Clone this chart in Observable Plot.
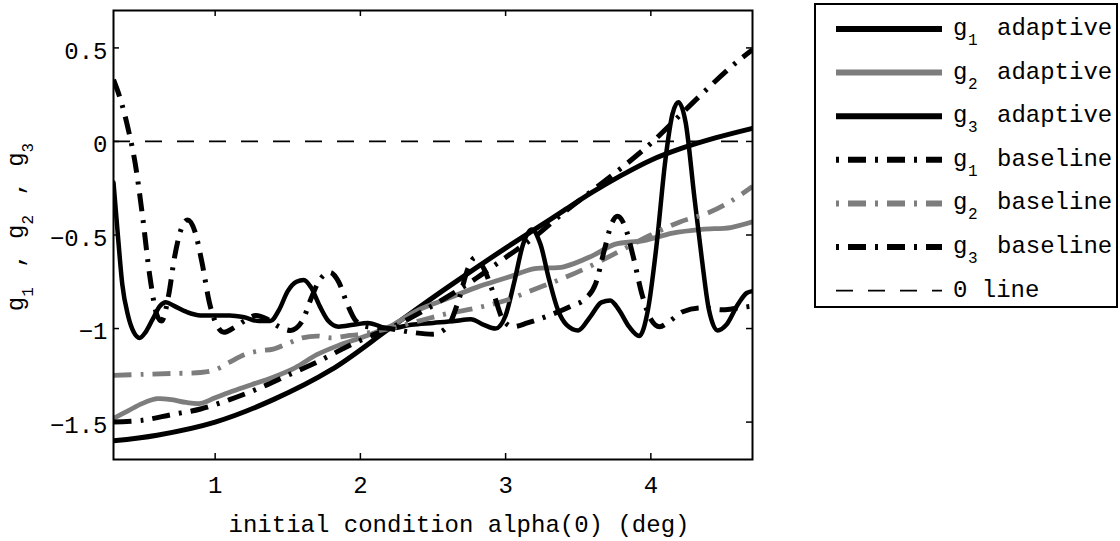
<!DOCTYPE html>
<html><head><meta charset="utf-8">
<script src="https://cdn.jsdelivr.net/npm/d3@7"></script>
<script src="https://cdn.jsdelivr.net/npm/@observablehq/plot@0.6"></script>
<style>
html,body{margin:0;padding:0;background:#fff;overflow:hidden}
#chart{width:1120px;height:541px}
</style></head><body><div id="chart"></div>
<script>
// ---- ticks and labels ----
const xTicks = [1, 2, 3, 4];
const yTicks = [0.5, 0, -0.5, -1, -1.5];
const yTickLabels = ["0.5", "0", "\u22120.5", "\u22121", "\u22121.5"];
const xLabel = "initial condition alpha(0) (deg)";
const yLabelMain = ["g", " , g", " , g"];
const yLabelSubs = ["1", "2", "3"];
const legendSubs = ["1", "2", "3", "1", "2", "3"];
const legendNames = ["adaptive", "adaptive", "adaptive", "baseline", "baseline", "baseline"];
const zeroLineLabel = "0 line";
const zeroLine = [0];

// ---- series ----
const g1AdaptiveX = [0.3, 0.6, 1.0, 1.4, 1.8, 2.2, 2.6, 3.0, 3.2, 3.4, 3.6, 3.8, 4.0, 4.2, 4.45, 4.7];
const g1AdaptiveY = [-1.60, -1.57, -1.50, -1.38, -1.22, -1.00, -0.78, -0.57, -0.47, -0.37, -0.27, -0.18, -0.10, -0.04, 0.02, 0.07];

const g2AdaptiveX = [0.3, 0.4, 0.5, 0.6, 0.7, 0.8, 0.9, 1.0, 1.1, 1.25, 1.4, 1.55, 1.7, 1.85, 2.0, 2.2, 2.4, 2.6, 2.8, 3.0, 3.2, 3.4, 3.6, 3.75, 3.95, 4.15, 4.35, 4.55, 4.7];
const g2AdaptiveY = [-1.48, -1.44, -1.40, -1.375, -1.38, -1.395, -1.40, -1.37, -1.34, -1.30, -1.26, -1.21, -1.14, -1.09, -1.05, -0.99, -0.90, -0.84, -0.78, -0.73, -0.68, -0.67, -0.61, -0.55, -0.53, -0.49, -0.47, -0.46, -0.43];

const g3AdaptiveX = [0.3, 0.33, 0.36, 0.4, 0.44, 0.48, 0.52, 0.57, 0.62, 0.66, 0.72, 0.8, 0.9, 1.0, 1.1, 1.2, 1.3, 1.38, 1.44, 1.5, 1.56, 1.61, 1.66, 1.72, 1.78, 1.85, 1.95, 2.05, 2.2, 2.35, 2.5, 2.65, 2.76, 2.85, 2.93, 3.0, 3.06, 3.12, 3.18, 3.24, 3.3, 3.36, 3.42, 3.5, 3.58, 3.66, 3.72, 3.78, 3.85, 3.92, 3.98, 4.04, 4.1, 4.15, 4.19, 4.24, 4.3, 4.35, 4.4, 4.46, 4.52, 4.6, 4.66, 4.7];
const g3AdaptiveY = [-0.22, -0.50, -0.76, -0.93, -1.02, -1.05, -1.02, -0.95, -0.88, -0.86, -0.88, -0.91, -0.93, -0.93, -0.93, -0.94, -0.96, -0.96, -0.90, -0.80, -0.75, -0.74, -0.78, -0.88, -0.96, -0.99, -0.98, -0.97, -1.00, -0.98, -0.97, -0.96, -0.95, -0.98, -1.00, -0.93, -0.75, -0.55, -0.47, -0.55, -0.74, -0.90, -0.98, -1.01, -0.94, -0.86, -0.85, -0.90, -0.99, -1.04, -0.90, -0.55, -0.10, 0.15, 0.21, 0.10, -0.30, -0.62, -0.90, -1.01, -0.98, -0.87, -0.81, -0.80];

const g1BaselineX = [0.3, 0.5, 0.7, 0.9, 1.1, 1.3, 1.5, 1.7, 1.9, 2.1, 2.2, 2.4, 2.6, 2.8, 3.0, 3.2, 3.4, 3.6, 3.8, 4.0, 4.2, 4.4, 4.6, 4.7];
const g1BaselineY = [-1.50, -1.49, -1.46, -1.43, -1.38, -1.32, -1.25, -1.18, -1.10, -1.03, -1.00, -0.92, -0.83, -0.73, -0.62, -0.51, -0.38, -0.26, -0.14, -0.01, 0.14, 0.29, 0.43, 0.49];

const g2BaselineX = [0.3, 0.5, 0.7, 0.9, 1.0, 1.1, 1.2, 1.3, 1.4, 1.5, 1.6, 1.7, 1.8, 1.9, 2.0, 2.2, 2.4, 2.6, 2.8, 3.0, 3.2, 3.4, 3.6, 3.8, 4.0, 4.2, 4.4, 4.55, 4.7];
const g2BaselineY = [-1.25, -1.245, -1.24, -1.235, -1.22, -1.18, -1.14, -1.12, -1.11, -1.08, -1.05, -1.04, -1.05, -1.04, -1.03, -1.00, -0.96, -0.92, -0.89, -0.85, -0.79, -0.73, -0.66, -0.58, -0.50, -0.43, -0.38, -0.32, -0.24];

const g3BaselineX = [0.3, 0.35, 0.4, 0.45, 0.5, 0.55, 0.6, 0.63, 0.68, 0.72, 0.77, 0.81, 0.86, 0.91, 0.96, 1.01, 1.06, 1.12, 1.2, 1.28, 1.36, 1.44, 1.52, 1.6, 1.66, 1.72, 1.79, 1.85, 1.91, 1.97, 2.05, 2.2, 2.35, 2.5, 2.6, 2.68, 2.74, 2.79, 2.85, 2.92, 2.98, 3.05, 3.15, 3.3, 3.45, 3.55, 3.62, 3.68, 3.73, 3.77, 3.82, 3.88, 3.94, 4.0, 4.06, 4.13, 4.22, 4.35, 4.5, 4.6, 4.7];
const g3BaselineY = [0.33, 0.22, 0.07, -0.12, -0.40, -0.72, -0.93, -0.96, -0.82, -0.62, -0.46, -0.42, -0.48, -0.65, -0.86, -0.98, -1.02, -1.00, -0.96, -0.93, -0.95, -0.99, -1.01, -0.96, -0.84, -0.74, -0.70, -0.75, -0.87, -0.96, -0.99, -1.00, -1.02, -1.03, -0.99, -0.84, -0.68, -0.62, -0.68, -0.82, -0.95, -0.99, -0.97, -0.93, -0.88, -0.84, -0.76, -0.58, -0.44, -0.40, -0.45, -0.62, -0.82, -0.95, -0.99, -0.96, -0.91, -0.89, -0.90, -0.89, -0.88];

// ---- build ----
const FONT = '"Liberation Mono", "Courier New", monospace';
const GRAY = "#7d7d7d";
const DASHDOT = "18,9,3,9";
const toRows = (xs, ys) => xs.map((x, i) => ({x, y: ys[i]}));

const styles = [
  {stroke: "black", strokeWidth: 5, dash: null},
  {stroke: GRAY, strokeWidth: 4.8, dash: null},
  {stroke: "black", strokeWidth: 4.5, dash: null},
  {stroke: "black", strokeWidth: 5, dash: DASHDOT},
  {stroke: GRAY, strokeWidth: 4.8, dash: DASHDOT},
  {stroke: "black", strokeWidth: 5, dash: DASHDOT}
];
const seriesData = [
  toRows(g1AdaptiveX, g1AdaptiveY),
  toRows(g2AdaptiveX, g2AdaptiveY),
  toRows(g3AdaptiveX, g3AdaptiveY),
  toRows(g1BaselineX, g1BaselineY),
  toRows(g2BaselineX, g2BaselineY),
  toRows(g3BaselineX, g3BaselineY)
];
const curves = ["catmull-rom", "catmull-rom", "monotone-x", "catmull-rom", "catmull-rom", "monotone-x"];

const lineMarks = seriesData.map((d, i) => Plot.line(d, {
  x: "x", y: "y",
  stroke: styles[i].stroke,
  strokeWidth: styles[i].strokeWidth,
  strokeDasharray: styles[i].dash,
  strokeLinecap: styles[i].dash ? "butt" : "round",
  curve: curves[i],
  clip: true
}));

const plotW = 1120 - 113 - 368;
const plotH = 541 - 10 - 82;
const TICK = 6;

const plot = Plot.plot({
  width: 1120, height: 541,
  marginLeft: 113, marginTop: 10, marginRight: 368, marginBottom: 82,
  style: {fontFamily: FONT, fontSize: "24px", background: "white", color: "black"},
  x: {domain: [0.3, 4.7], axis: null},
  y: {domain: [-1.7, 0.7], axis: null},
  marks: [
    Plot.ruleY(zeroLine, {y: d => d, stroke: "black", strokeWidth: 1.8, strokeDasharray: "17,15"}),
    ...lineMarks,
    Plot.tickX(xTicks, {x: d => d, insetTop: plotH - TICK, stroke: "black", strokeWidth: 1.5}),
    Plot.tickX(xTicks, {x: d => d, insetBottom: plotH - TICK, stroke: "black", strokeWidth: 1.5}),
    Plot.tickY(yTicks, {y: d => d, insetRight: plotW - TICK, stroke: "black", strokeWidth: 1.5}),
    Plot.tickY(yTicks, {y: d => d, insetLeft: plotW - TICK, stroke: "black", strokeWidth: 1.5}),
    Plot.frame({stroke: "black", strokeWidth: 2}),
    Plot.text(xTicks, {x: d => d, frameAnchor: "bottom", dy: 33, text: d => String(d), fontSize: 24, fontFamily: FONT, fill: "black"}),
    Plot.text(yTicks, {y: d => d, frameAnchor: "left", dx: -6, dy: 3, textAnchor: "end", text: (d, i) => yTickLabels[i], fontSize: 24, fontFamily: FONT, fill: "black"}),
    Plot.text([xLabel], {frameAnchor: "bottom", dy: 72, dx: 26, text: d => d, fontSize: 24, fontFamily: FONT, fill: "black"})
  ]
});

const svg = d3.select(plot);

// y label with subscripts
const yl = svg.append("text")
  .attr("transform", "translate(23,227) rotate(-90)")
  .attr("text-anchor", "middle")
  .attr("font-family", FONT).attr("font-size", 24).attr("fill", "black");
yLabelMain.forEach((m, i) => {
  yl.append("tspan").attr("dy", i === 0 ? 0 : -10).attr("dx", i === 0 ? 0 : 5).attr("font-size", 24).text(m);
  yl.append("tspan").attr("dy", 10).attr("font-size", 16).text(yLabelSubs[i]);
});

// legend
const lg = svg.append("g").attr("font-family", FONT).attr("fill", "black").attr("text-anchor", "start");
lg.append("rect").attr("x", 815).attr("y", 4).attr("width", 302).attr("height", 303)
  .attr("fill", "white").attr("stroke", "black").attr("stroke-width", 2);
const rowY = i => 29 + i * 43.6;
legendNames.forEach((name, i) => {
  const y = rowY(i);
  lg.append("line").attr("x1", 836).attr("x2", 942).attr("y1", y).attr("y2", y)
    .attr("stroke", styles[i].stroke).attr("stroke-width", 6)
    .attr("stroke-dasharray", styles[i].dash ? "3,9,18,9" : null);
  lg.append("text").attr("x", 953).attr("y", y + 6).attr("font-size", 24).attr("text-anchor", "start").text("g");
  lg.append("text").attr("x", 968).attr("y", y + 16).attr("font-size", 16).attr("text-anchor", "start").text(legendSubs[i]);
  lg.append("text").attr("x", 997).attr("y", y + 6).attr("font-size", 24).attr("text-anchor", "start").text(name);
});
{
  const y = rowY(6);
  lg.append("line").attr("x1", 836).attr("x2", 942).attr("y1", y).attr("y2", y)
    .attr("stroke", "black").attr("stroke-width", 1.8).attr("stroke-dasharray", "17,15");
  lg.append("text").attr("x", 953).attr("y", y + 6).attr("font-size", 24).attr("text-anchor", "start").text(zeroLineLabel);
}

document.getElementById("chart").appendChild(plot);
</script></body></html>
